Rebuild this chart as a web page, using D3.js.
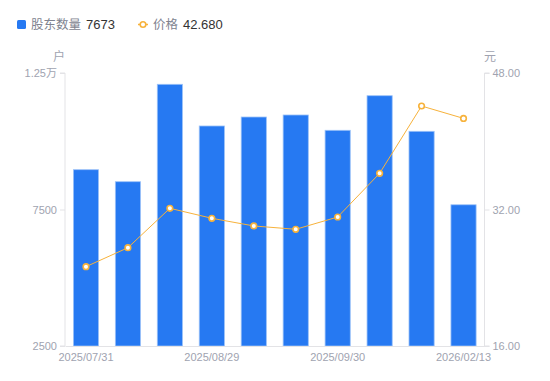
<!DOCTYPE html>
<html><head><meta charset="utf-8">
<script src="https://cdn.jsdelivr.net/npm/d3@7"></script>
<style>
html,body{margin:0;padding:0;background:#fff;}
svg{display:block;font-family:"Liberation Sans","Noto Sans CJK SC",sans-serif;}
</style></head>
<body>
<svg id="chart" width="550" height="381"></svg>
<script>
const categories = ["2025/07/31","2025/08/08","2025/08/20","2025/08/29","2025/09/10","2025/09/19","2025/09/30","2025/10/31","2025/12/31","2026/02/13"];
const holders = [8958, 8518, 12086, 10559, 10888, 10962, 10401, 11668, 10364, 7673];
const prices = [25.30, 27.52, 32.14, 30.97, 30.07, 29.68, 31.12, 36.24, 44.13, 42.68];
const leftTicks = [2500, 7500, 12500];
const leftTickLabels = ["2500", "7500", "1.25万"];
const rightTicks = [16, 32, 48];
const xLabelIdx = [0, 3, 6, 9];

const svg = d3.select("#chart");
const L = 65, R = 484.5, T = 73, B = 346;
const barColor = "#2679f2", lineColor = "#f7b23b", axisColor = "#e3e3e6", textColor = "#a0a3b0";

const x = d3.scaleBand().domain(categories).range([L, R]).paddingInner(0.4).paddingOuter(0.2);
const yL = d3.scaleLinear().domain([2500, 12500]).range([B, T]);
const yR = d3.scaleLinear().domain([16, 48]).range([B, T]);

// bars
svg.append("g").selectAll("rect").data(holders).join("rect")
  .attr("x", (d,i)=>x(categories[i]))
  .attr("width", x.bandwidth())
  .attr("y", d=>yL(d))
  .attr("height", d=>B - yL(d))
  .attr("fill", barColor)
  .attr("stroke", "#9cc2f8").attr("stroke-width", 0.8);

// axes
const leftAxis = d3.axisLeft(yL).tickValues(leftTicks).tickFormat((d,i)=>leftTickLabels[i]).tickSize(5).tickPadding(3);
const gL = svg.append("g").attr("transform", `translate(${L},0)`).call(leftAxis);
const rightAxis = d3.axisRight(yR).tickValues(rightTicks).tickFormat(d3.format(".2f")).tickSize(5).tickPadding(3);
const gR = svg.append("g").attr("transform", `translate(${R},0)`).call(rightAxis);
const bottomAxis = d3.axisBottom(x).tickValues(xLabelIdx.map(i=>categories[i])).tickSize(0).tickPadding(7);
const gB = svg.append("g").attr("transform", `translate(0,${B})`).call(bottomAxis);
[gL,gR,gB].forEach(g=>{
  g.selectAll("path.domain").attr("stroke", axisColor);
  g.selectAll(".tick line").attr("stroke", axisColor);
  g.selectAll(".tick text").attr("fill", textColor).attr("font-size", 11)
    .attr("font-family", '"Liberation Sans","Noto Sans CJK SC",sans-serif');
});
gL.select("path.domain").attr("d", `M-5,${T}H0V${B}H-5`);
gR.select("path.domain").attr("d", `M5,${T}H0V${B}H5`);

// unit labels
svg.append("text").attr("x", 59).attr("y", 61).attr("text-anchor","middle")
  .attr("fill", textColor).attr("font-size", 12).attr("font-family","Noto Sans CJK SC").text("户");
svg.append("text").attr("x", 490).attr("y", 61).attr("text-anchor","middle")
  .attr("fill", textColor).attr("font-size", 12).attr("font-family","Noto Sans CJK SC").text("元");

// line
const line = d3.line().x((d,i)=>x(categories[i]) + x.bandwidth()/2).y(d=>yR(d));
svg.append("path").datum(prices).attr("d", line).attr("fill","none").attr("stroke", lineColor).attr("stroke-width", 1);
svg.append("g").selectAll("circle").data(prices).join("circle")
  .attr("cx", (d,i)=>x(categories[i]) + x.bandwidth()/2)
  .attr("cy", d=>yR(d)).attr("r", 2.8)
  .attr("fill", "#fff").attr("stroke", lineColor).attr("stroke-width", 1.6);

// legend
const lg = svg.append("g");
lg.append("rect").attr("x", 17).attr("y", 20).attr("width", 9).attr("height", 9).attr("rx", 1.5).attr("fill", barColor);
lg.append("text").attr("x", 31).attr("y", 29).attr("font-size", 12.5).attr("fill", "#80838f")
  .attr("font-family","Noto Sans CJK SC").text("股东数量");
lg.append("text").attr("x", 86).attr("y", 29).attr("font-size", 13).attr("fill", "#333").text(holders[holders.length-1]);
lg.append("line").attr("x1", 138).attr("x2", 148).attr("y1", 24.5).attr("y2", 24.5).attr("stroke", lineColor).attr("stroke-width", 1.5);
lg.append("circle").attr("cx", 143).attr("cy", 24.5).attr("r", 2.8).attr("fill", "#fff").attr("stroke", lineColor).attr("stroke-width", 1.6);
lg.append("text").attr("x", 153).attr("y", 29).attr("font-size", 12.5).attr("fill", "#80838f")
  .attr("font-family","Noto Sans CJK SC").text("价格");
lg.append("text").attr("x", 183).attr("y", 29).attr("font-size", 13).attr("fill", "#333").text(d3.format(".3f")(prices[prices.length-1]));
</script>
</body></html>
